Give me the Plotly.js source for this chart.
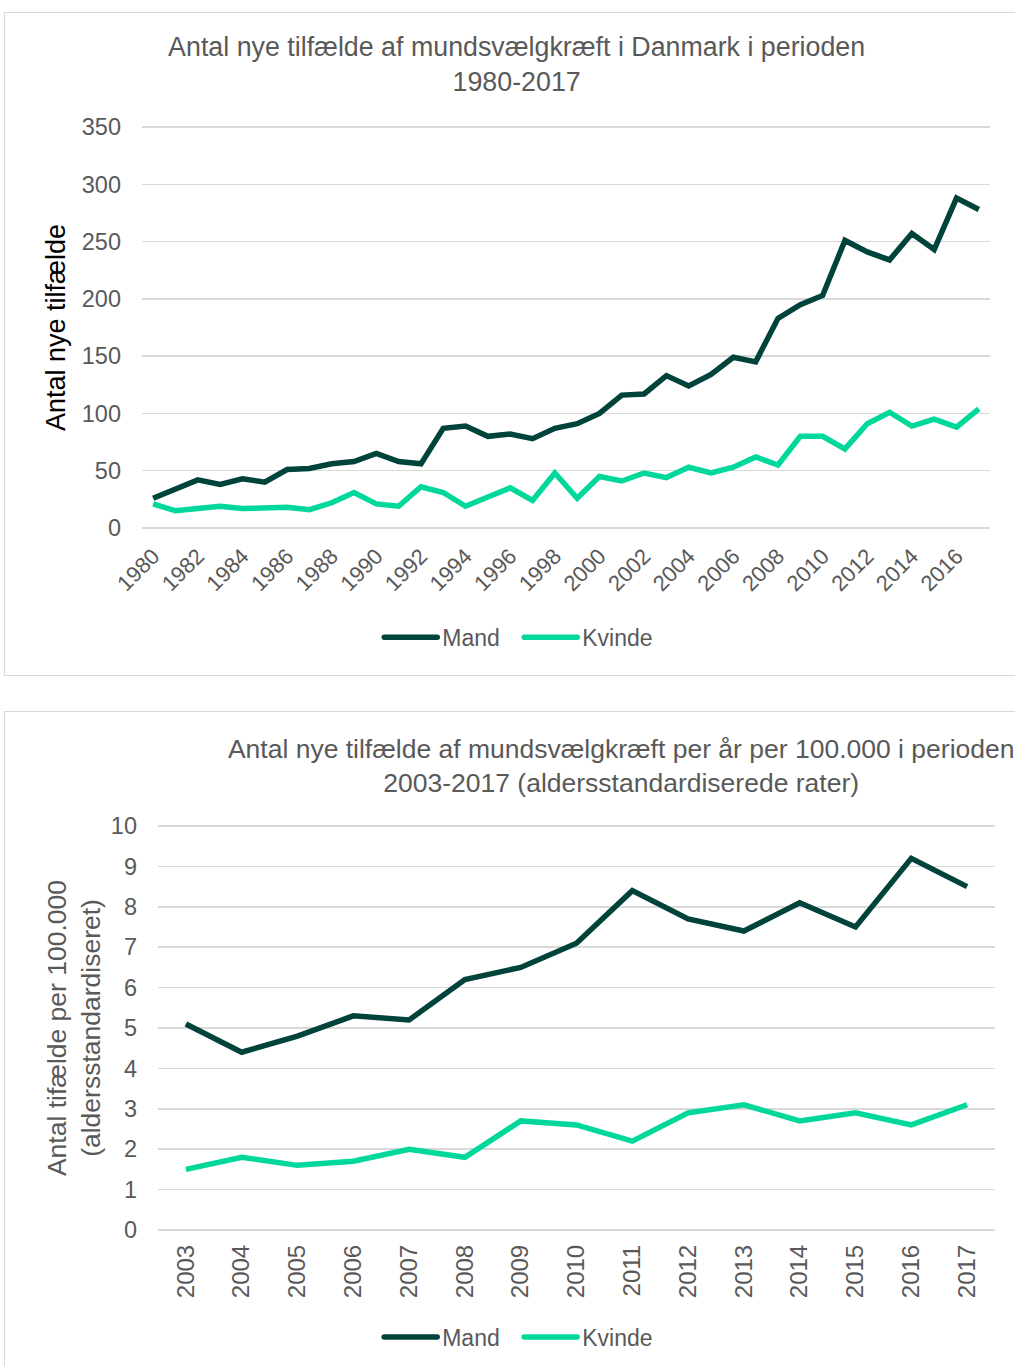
<!DOCTYPE html>
<html>
<head>
<meta charset="utf-8">
<script src="https://cdn.plot.ly/plotly-3.0.1.min.js"></script>
<style>
  html, body { margin: 0; padding: 0; background: #fff; }
  body { width: 1015px; height: 1366px; position: relative; overflow: hidden; }
  .panel { position: absolute; border: 1.5px solid #D9D9D9; box-sizing: border-box; }
  #p1 { left: 4px; top: 12px; width: 1030px; height: 664px; }
  #p2 { left: 4px; top: 711px; width: 1030px; height: 700px; }
  #c1 { position: absolute; left: 0; top: 0; width: 1015px; height: 690px; }
  #c2 { position: absolute; left: 0; top: 690px; width: 1015px; height: 676px; }
</style>
</head>
<body>
<div class="panel" id="p1"></div>
<div class="panel" id="p2"></div>
<div id="c1"></div>
<div id="c2"></div>
<script>
// ---- Chart 1 data: new cases 1980-2017 ----
const years1 = [1980,1981,1982,1983,1984,1985,1986,1987,1988,1989,1990,1991,1992,1993,1994,1995,1996,1997,1998,1999,2000,2001,2002,2003,2004,2005,2006,2007,2008,2009,2010,2011,2012,2013,2014,2015,2016,2017];
const mand1 = [26,34,42,38,43,40,51,52,56,58,65,58,56,87,89,80,82,78,87,91,100,116,117,133,124,134,149,145,183,195,203,251,241,234,257,243,288,278];
const kvinde1 = [21,15,17,19,17,18,18,16,22,31,21,19,36,31,19,27,35,24,48,26,45,41,48,44,53,48,53,62,55,80,80,69,91,101,89,95,88,104];
const tickYears1 = [1980,1982,1984,1986,1988,1990,1992,1994,1996,1998,2000,2002,2004,2006,2008,2010,2012,2014,2016];
const yTicks1 = [0,50,100,150,200,250,300,350];

// ---- Chart 2 data: age-standardised rates 2003-2017 ----
const years2 = [2003,2004,2005,2006,2007,2008,2009,2010,2011,2012,2013,2014,2015,2016,2017];
const mand2 = [5.1,4.4,4.8,5.3,5.2,6.2,6.5,7.1,8.4,7.7,7.4,8.1,7.5,9.2,8.5];
const kvinde2 = [1.5,1.8,1.6,1.7,2.0,1.8,2.7,2.6,2.2,2.9,3.1,2.7,2.9,2.6,3.1];
const yTicks2 = [0,1,2,3,4,5,6,7,8,9,10];

const seriesNames = ['Mand', 'Kvinde'];
const DARK = '#00433A';
const LIGHT = '#00D89B';
const GRAY = '#595959';
const GRID = '#D9D9D9';
const FONT = 'Liberation Sans, Arial, sans-serif';

function line(x, y, name, color) {
  return { x: x, y: y, name: name, type: 'scatter', mode: 'lines',
           line: { color: color, width: 5.5, shape: 'linear' }, hoverinfo: 'skip' };
}

const legendCommon = {
  orientation: 'h', xanchor: 'center', yanchor: 'middle',
  font: { family: FONT, size: 23, color: GRAY },
  itemwidth: 30, tracegroupgap: 0, bgcolor: 'rgba(0,0,0,0)',
  entrywidthmode: 'pixels', entrywidth: 95
};

// lengthen the legend line samples (as in the original) and keep them unclipped
function longLegendLines(id) {
  const root = document.getElementById(id);
  root.querySelectorAll('.legend [clip-path]').forEach(function (el) { el.removeAttribute('clip-path'); });
  root.querySelectorAll('.legend').forEach(function (el) { el.removeAttribute('clip-path'); });
  root.querySelectorAll('.legendlines path').forEach(function (p) {
    p.setAttribute('d', 'M-18,0h53');
    p.style.strokeLinecap = 'round';
  });
}

// Chart 1
Plotly.newPlot('c1', [
  line(years1, mand1, seriesNames[0], DARK),
  line(years1, kvinde1, seriesNames[1], LIGHT)
], {
  width: 1015, height: 690,
  margin: { l: 142, r: 25, t: 125, b: 160 },
  paper_bgcolor: 'rgba(0,0,0,0)', plot_bgcolor: 'rgba(0,0,0,0)',
  font: { family: FONT, color: GRAY },
  title: { text: 'Antal nye tilfælde af mundsvælgkræft i Danmark i perioden<br>1980-2017',
           font: { family: FONT, size: 26.8, color: GRAY },
           xref: 'container', yref: 'container', x: 0.509, xanchor: 'center', y: 0.9185, yanchor: 'middle' },
  xaxis: { range: [1979.5, 2017.5], tickmode: 'array', tickvals: tickYears1, ticktext: tickYears1.map(String),
           tickangle: -45, tickfont: { family: FONT, size: 22, color: GRAY },
           showgrid: false, zeroline: false, showline: false, ticks: '', ticklabelstandoff: 8, fixedrange: true },
  yaxis: { range: [-1.75, 351.75], tickmode: 'array', tickvals: yTicks1, ticktext: yTicks1.map(String),
           showgrid: true, gridcolor: GRID, gridwidth: 1.5,
           zeroline: false, showline: false, ticks: '', ticklabelstandoff: 20,
           tickfont: { family: FONT, size: 23.5, color: GRAY },
           title: { text: 'Antal nye tilfælde', font: { family: FONT, size: 27, color: '#000000' }, standoff: 8 },
           fixedrange: true },
  legend: Object.assign({ x: 0.472, y: -0.265 }, legendCommon),
  showlegend: true
}, { displayModeBar: false, staticPlot: true }).then(function () { longLegendLines('c1'); });

// Chart 2
Plotly.newPlot('c2', [
  line(years2, mand2, seriesNames[0], DARK),
  line(years2, kvinde2, seriesNames[1], LIGHT)
], {
  width: 1015, height: 676,
  margin: { l: 158, r: 20, t: 134, b: 134 },
  paper_bgcolor: 'rgba(0,0,0,0)', plot_bgcolor: 'rgba(0,0,0,0)',
  font: { family: FONT, color: GRAY },
  title: { text: 'Antal nye tilfælde af mundsvælgkræft per år per 100.000 i perioden<br>2003-2017 (aldersstandardiserede rater)',
           font: { family: FONT, size: 26.5, color: GRAY },
           xref: 'container', yref: 'container', x: 0.612, xanchor: 'center', y: 0.9, yanchor: 'middle' },
  xaxis: { range: [2002.5, 2017.5], tickmode: 'array', tickvals: years2, ticktext: years2.map(String),
           tickangle: -90, tickfont: { family: FONT, size: 24, color: GRAY },
           showgrid: false, zeroline: false, showline: false, ticks: '', ticklabelstandoff: 7, fixedrange: true },
  yaxis: { range: [-0.05, 10.05], tickmode: 'array', tickvals: yTicks2, ticktext: yTicks2.map(String),
           showgrid: true, gridcolor: GRID, gridwidth: 1.5,
           zeroline: false, showline: false, ticks: '', ticklabelstandoff: 20,
           tickfont: { family: FONT, size: 23.5, color: GRAY },
           title: { text: 'Antal tifælde per 100.000<br>(aldersstandardiseret)', font: { family: FONT, size: 26.5, color: GRAY }, standoff: 2 },
           fixedrange: true },
  legend: Object.assign({ x: 0.459, y: 0.0429, yref: 'container' }, legendCommon),
  showlegend: true
}, { displayModeBar: false, staticPlot: true }).then(function () { longLegendLines('c2'); });
</script>
</body>
</html>
